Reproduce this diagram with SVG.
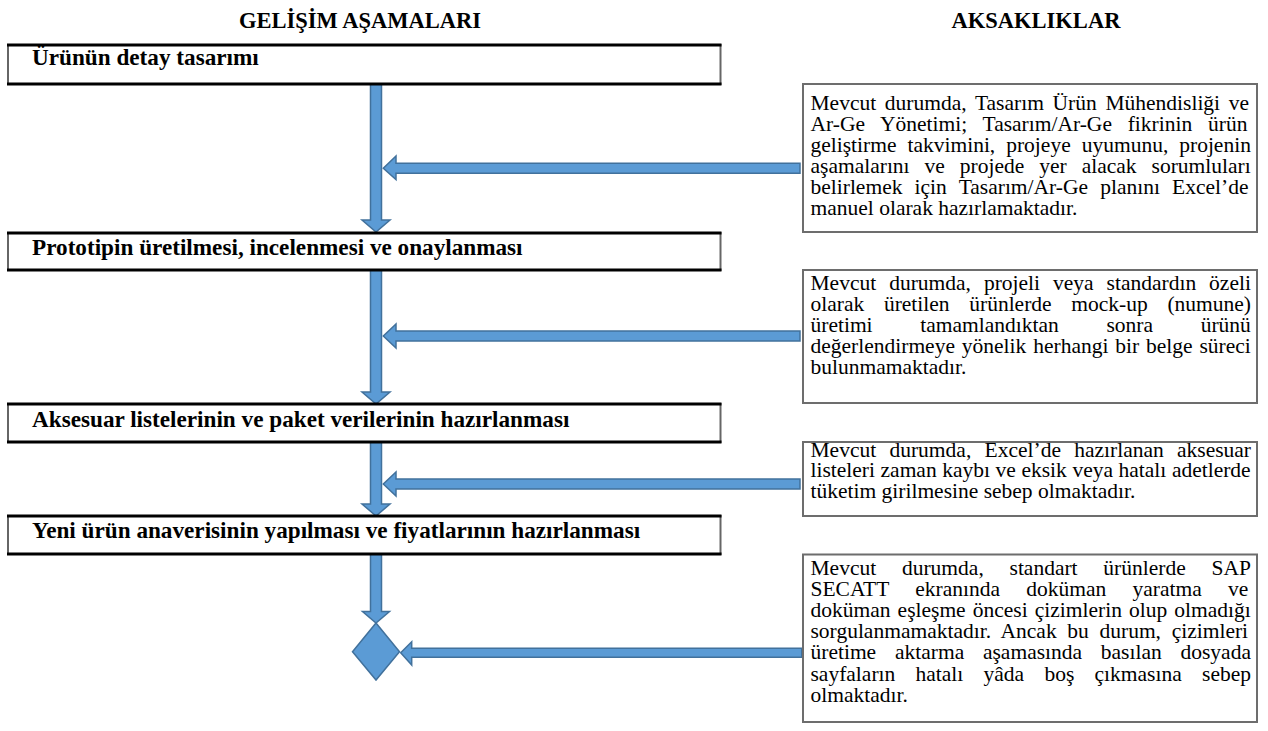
<svg xmlns="http://www.w3.org/2000/svg" width="1268" height="731" viewBox="0 0 1268 731">
<style>
.hdr{font-family:"Liberation Serif","Times New Roman",serif;font-weight:bold;font-size:22.5px;fill:#000}
.lbl{font-family:"Liberation Serif","Times New Roman",serif;font-weight:bold;font-size:23.2px;fill:#000}
.body{font-family:"Liberation Serif","Times New Roman",serif;font-size:21.5px;fill:#000}
.stage{fill:#fff;stroke:#666;stroke-width:2}
.edge{stroke:#000;stroke-width:3}
.note{fill:#fff;stroke:#6d6d6d;stroke-width:2}
.arr{fill:#5b9bd5;stroke:#41719c;stroke-width:1.5;stroke-linejoin:miter}
</style>
<rect width="1268" height="731" fill="#fff"/>
<g id="headers">
<text class="hdr" x="360" y="28" text-anchor="middle">GELİŞİM AŞAMALARI</text>
<text class="hdr" x="1036" y="28" text-anchor="middle">AKSAKLIKLAR</text>
</g>
<g id="connectors">
<polygon class="arr" points="370.5,84 381.5,84 381.5,220 390,220 376,232 362,220 370.5,220"/>
<polygon class="arr" points="370.5,270 381.5,270 381.5,392 390,392 376,404 362,392 370.5,392"/>
<polygon class="arr" points="370.5,442 381.5,442 381.5,504 390,504 376,516 362,504 370.5,504"/>
<polygon class="arr" points="370.5,554 381.5,554 381.5,611.5 389.5,611.5 376,623 362.5,611.5 370.5,611.5"/>
<polygon class="arr" points="800,163.3 396,163.3 396,156 383.3,168.3 396,179.5 396,173.3 800,173.3"/>
<polygon class="arr" points="800,331 396,331 396,324 383.3,336 396,348 396,341 800,341"/>
<polygon class="arr" points="800,479 396,479 396,472 383.3,484 396,496 396,489 800,489"/>
<polygon class="arr" points="801.7,648.3 411.7,648.3 411.7,641.7 400.7,652.7 411.7,665 411.7,657.3 801.7,657.3"/>
</g>
<g id="stage1">
<rect class="stage" x="8" y="45" width="712.5" height="39"/>
<line class="edge" x1="7" y1="45" x2="721.5" y2="45"/><line class="edge" x1="7" y1="84" x2="721.5" y2="84"/>
<text class="lbl" x="32" y="65">Ürünün detay tasarımı</text>
</g>
<g id="stage2">
<rect class="stage" x="8" y="233" width="712.5" height="37"/>
<line class="edge" x1="7" y1="233" x2="721.5" y2="233"/><line class="edge" x1="7" y1="270" x2="721.5" y2="270"/>
<text class="lbl" x="32" y="255">Prototipin üretilmesi, incelenmesi ve onaylanması</text>
</g>
<g id="stage3">
<rect class="stage" x="8" y="404" width="712.5" height="38"/>
<line class="edge" x1="7" y1="404" x2="721.5" y2="404"/><line class="edge" x1="7" y1="442" x2="721.5" y2="442"/>
<text class="lbl" x="32" y="427">Aksesuar listelerinin ve paket verilerinin hazırlanması</text>
</g>
<g id="stage4">
<rect class="stage" x="8" y="516" width="712.5" height="38"/>
<line class="edge" x1="7" y1="516" x2="721.5" y2="516"/><line class="edge" x1="7" y1="554" x2="721.5" y2="554"/>
<text class="lbl" x="32" y="538">Yeni ürün anaverisinin yapılması ve fiyatlarının hazırlanması</text>
</g>
<g id="decision">
<polygon class="arr" points="376,623 399.5,651.7 376,680 352.5,651.7"/>
</g>
<g id="issue1">
<rect class="note" x="803" y="84" width="454" height="148"/>
<text class="body"><tspan x="810.5" y="109.5" word-spacing="3.3">Mevcut durumda, Tasarım Ürün Mühendisliği ve</tspan><tspan x="810.5" y="130.6" word-spacing="10.4">Ar-Ge Yönetimi; Tasarım/Ar-Ge fikrinin ürün</tspan><tspan x="810.5" y="151.7" word-spacing="5.6">geliştirme takvimini, projeye uyumunu, projenin</tspan><tspan x="810.5" y="172.8" word-spacing="9.6">aşamalarını ve projede yer alacak sorumluları</tspan><tspan x="810.5" y="193.9" word-spacing="6.8">belirlemek için Tasarım/Ar-Ge planını Excel’de</tspan><tspan x="810.5" y="215" word-spacing="0">manuel olarak hazırlamaktadır.</tspan></text>
</g>
<g id="issue2">
<rect class="note" x="803" y="270" width="454" height="133"/>
<text class="body"><tspan x="810.5" y="289.5" word-spacing="7.6">Mevcut durumda, projeli veya standardın özeli</tspan><tspan x="810.5" y="310.5" word-spacing="14.3">olarak üretilen ürünlerde mock-up (numune)</tspan><tspan x="810.5" y="331.5" word-spacing="42.3">üretimi tamamlandıktan sonra ürünü</tspan><tspan x="810.5" y="352.5" word-spacing="1.5">değerlendirmeye yönelik herhangi bir belge süreci</tspan><tspan x="810.5" y="373.5" word-spacing="0">bulunmamaktadır.</tspan></text>
</g>
<g id="issue3">
<rect class="note" x="803" y="442" width="454" height="74"/>
<text class="body"><tspan x="810.5" y="456.7" word-spacing="7.9">Mevcut durumda, Excel’de hazırlanan aksesuar</tspan><tspan x="810.5" y="477.3" word-spacing="0.2">listeleri zaman kaybı ve eksik veya hatalı adetlerde</tspan><tspan x="810.5" y="498" word-spacing="0">tüketim girilmesine sebep olmaktadır.</tspan></text>
</g>
<g id="issue4">
<rect class="note" x="803" y="554.5" width="454" height="167.5"/>
<text class="body"><tspan x="810.5" y="575" word-spacing="20.4">Mevcut durumda, standart ürünlerde SAP</tspan><tspan x="810.5" y="596.1" word-spacing="20.9">SECATT ekranında doküman yaratma ve</tspan><tspan x="810.5" y="617.2" word-spacing="1.7">doküman eşleşme öncesi çizimlerin olup olmadığı</tspan><tspan x="810.5" y="638.3" word-spacing="5.3">sorgulanmamaktadır. Ancak bu durum, çizimleri</tspan><tspan x="810.5" y="659.4" word-spacing="13.4">üretime aktarma aşamasında basılan dosyada</tspan><tspan x="810.5" y="680.5" word-spacing="14.9">sayfaların hatalı yâda boş çıkmasına sebep</tspan><tspan x="810.5" y="701.6" word-spacing="0">olmaktadır.</tspan></text>
</g>
</svg>
